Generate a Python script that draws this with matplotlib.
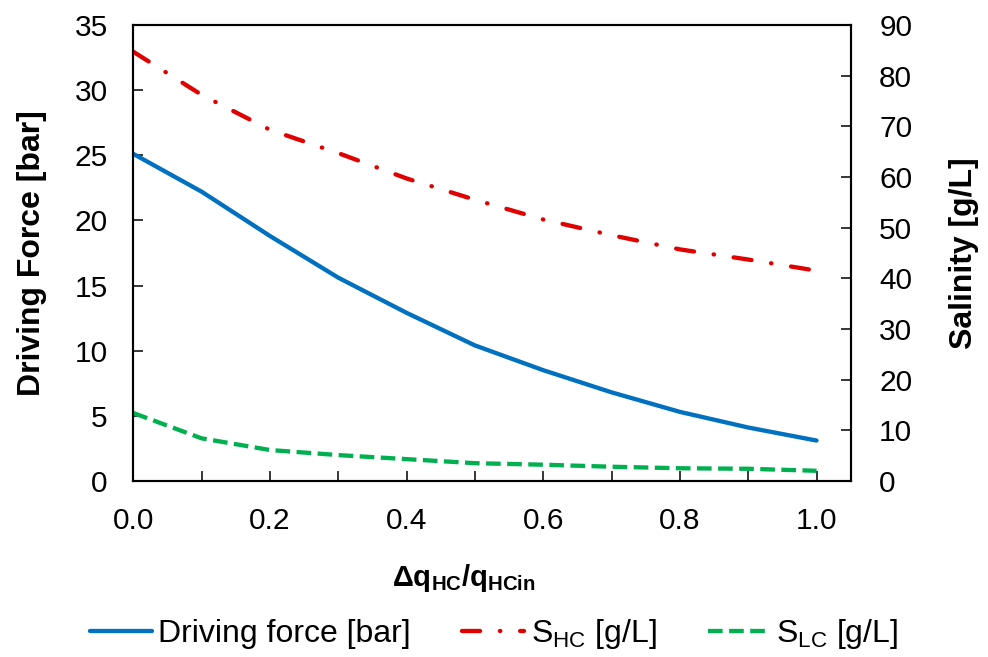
import matplotlib
matplotlib.use('Agg')
from matplotlib import pyplot as plt
from matplotlib.ticker import MultipleLocator, FormatStrFormatter

plt.rcParams['font.family'] = ['Liberation Sans', 'DejaVu Sans']
plt.rcParams['mathtext.default'] = 'regular'

# data
flow_ratio = [0.0, 0.1, 0.2, 0.3, 0.4, 0.5, 0.6, 0.7, 0.8, 0.9, 1.0]
driving_force = [25.1, 22.2, 18.8, 15.6, 12.9, 10.4, 8.5, 6.8, 5.3, 4.1, 3.1]  # bar
s_hc = [84.7, 76.2, 69.3, 64.7, 59.7, 55.5, 51.6, 48.5, 45.7, 43.7, 41.5]  # g/L
s_lc = [13.4, 8.4, 6.1, 5.1, 4.3, 3.5, 3.2, 2.8, 2.5, 2.4, 2.0]  # g/L

fig = plt.figure(figsize=(9.88, 6.57), dpi=100)
ax = fig.add_axes([0.135, 0.268, 0.726, 0.694])
ax2 = ax.twinx()

l1, = ax.plot(flow_ratio, driving_force, color='#0070C0', lw=3.1, label='Driving force [bar]',
              solid_capstyle='round')
l2, = ax2.plot(flow_ratio, s_hc, color='#E00000', lw=3.1, dashes=(4.2, 4.6, 0.1, 4.6),
               dash_capstyle='round', label='S$_{HC}$ [g/L]')
l3, = ax2.plot(flow_ratio, s_lc, color='#00B050', lw=3.1, dashes=(3.4, 1.5), label='S$_{LC}$ [g/L]')

ax.set_xlim(0, 1.05)
ax.set_ylim(0, 35)
ax2.set_ylim(0, 90)
ax.xaxis.set_major_locator(MultipleLocator(0.2))
ax.xaxis.set_minor_locator(MultipleLocator(0.1))
ax.yaxis.set_major_locator(MultipleLocator(5))
ax2.yaxis.set_major_locator(MultipleLocator(10))
ax.xaxis.set_major_formatter(FormatStrFormatter('%.1f'))

for a in (ax, ax2):
    a.tick_params(which='both', direction='in', length=7, width=1.1, labelsize=21.5, pad=18.5)
    for s in a.spines.values():
        s.set_linewidth(1.5)
ax2.tick_params(axis='y', pad=20.5)

ax.set_xlabel('\u0394q$_{HC}$/q$_{HCin}$', fontsize=21, fontweight='bold')
ax.set_ylabel('Driving Force [bar]', fontsize=23, fontweight='bold')
ax2.set_ylabel('Salinity [g/L]', fontsize=23, fontweight='bold')
ax.xaxis.set_label_coords(0.46, -0.177)
ax.yaxis.set_label_coords(-0.12, 0.5)
ax2.yaxis.set_label_coords(1.137, 0.5)

fig.legend(handles=[l1, l2, l3], loc='center', bbox_to_anchor=(0.5, 0.035), ncol=3,
           frameon=False, fontsize=23, handlelength=1.95, columnspacing=1.6, handletextpad=0.2,
           borderaxespad=0, borderpad=0)

fig.savefig('out.png', dpi=100)
